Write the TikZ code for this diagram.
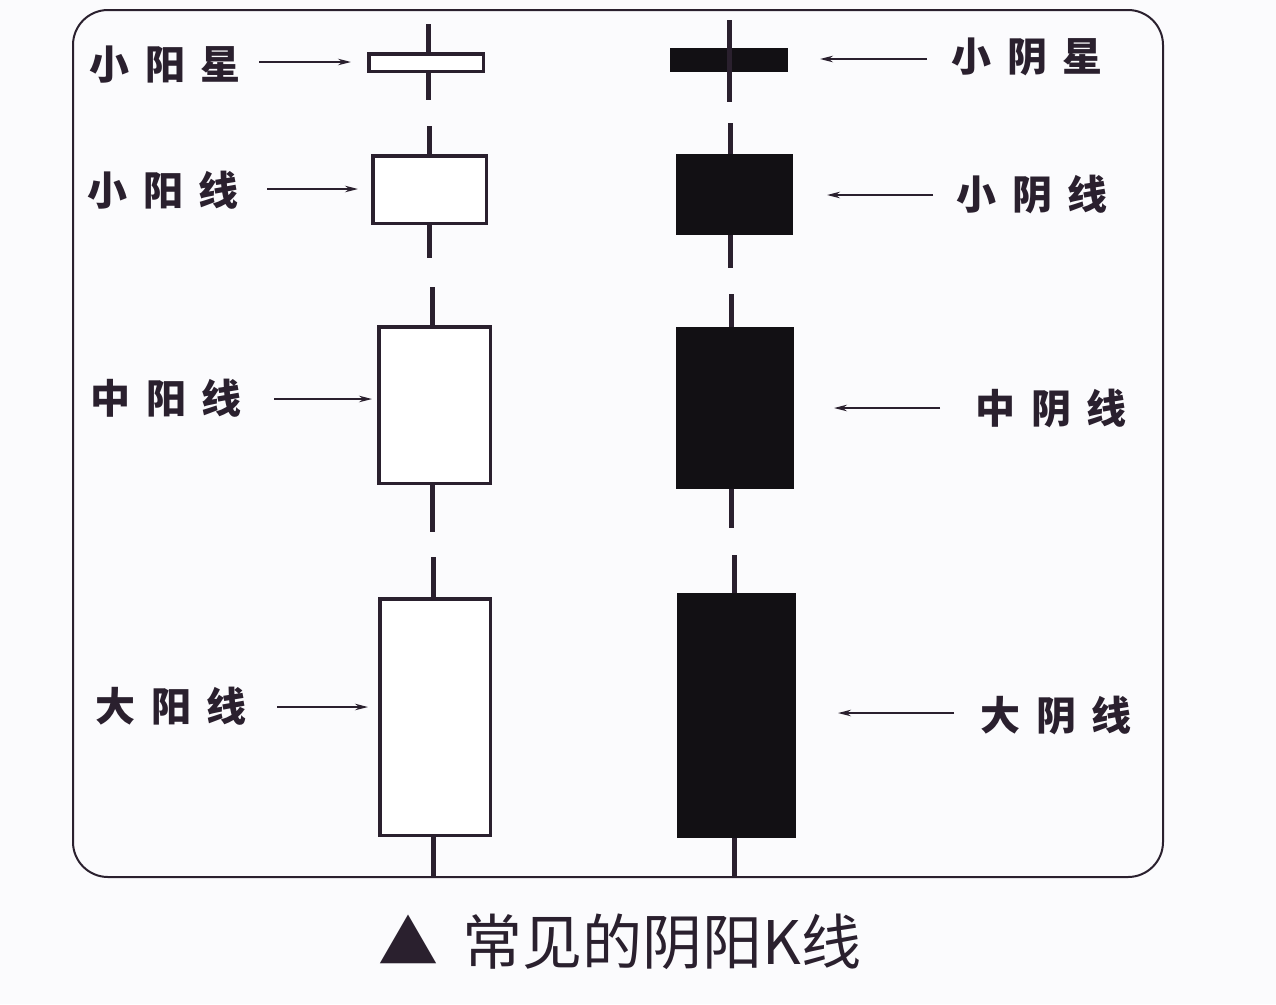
\documentclass[tikz,border=0pt]{standalone}
\usepackage{fontspec}
\newfontfamily\cjk{Noto Sans CJK SC}
\usetikzlibrary{arrows.meta}
\definecolor{ink}{RGB}{42,32,46}
\definecolor{bodyblack}{RGB}{18,16,20}
\definecolor{paper}{RGB}{251,251,253}
\newcommand{\lbl}[3]{#1\hspace{0.38em}#2\hspace{0.38em}#3}
\tikzset{
  frame/.style={draw=ink, line width=2pt, rounded corners=35pt},
  yang/.style={draw=ink, fill=white, line width=3.5pt, inner sep=0pt, rectangle},
  yin/.style={draw=bodyblack, fill=bodyblack, line width=1pt, inner sep=0pt, rectangle},
  wick/.style={draw=ink, line width=5pt},
  lab/.style={font=\cjk\bfseries\fontsize{40pt}{42pt}\selectfont, text=ink, inner sep=0pt},
  pointer/.style={draw=ink, line width=1.6pt, -{Stealth[length=13pt,width=6.5pt]}},
  caption/.style={font=\cjk\fontsize{60pt}{64pt}\selectfont, text=ink, inner sep=0pt}
}
\begin{document}
\begin{tikzpicture}[x=1pt,y=-1pt]
\fill[paper] (0,0) rectangle (1276,1004);
\useasboundingbox (0,0) rectangle (1276,1004);
\draw[frame] (73,10) rectangle (1163,877);

% ---- yang (white) candles ----
\node[yang, minimum width=114.5pt, minimum height=17.5pt] (ys) at (426,62.5) {};
\coordinate (ysT) at (428,24); \coordinate (ysB) at (428,100);
\draw[wick] (ysT) -- (ys.north -| ysT);
\draw[wick] (ys.south -| ysB) -- (ysB);

\node[yang, minimum width=113.5pt, minimum height=67.5pt] (yx) at (429.5,189.5) {};
\coordinate (yxT) at (429,126); \coordinate (yxB) at (429,258);
\draw[wick] (yxT) -- (yx.north -| yxT);
\draw[wick] (yx.south -| yxB) -- (yxB);

\node[yang, minimum width=111.5pt, minimum height=156.5pt] (ym) at (434.5,405) {};
\coordinate (ymT) at (432,287); \coordinate (ymB) at (432,532);
\draw[wick] (ymT) -- (ym.north -| ymT);
\draw[wick] (ym.south -| ymB) -- (ymB);

\node[yang, minimum width=110.5pt, minimum height=236.5pt] (yl) at (435,717) {};
\coordinate (ylT) at (433,557); \coordinate (ylB) at (433,877);
\draw[wick] (ylT) -- (yl.north -| ylT);
\draw[wick] (yl.south -| ylB) -- (ylB);

% ---- yin (black) candles ----
\node[yin, minimum width=117pt, minimum height=23pt] (ns) at (729,60) {};
\coordinate (nsT) at (729,20); \coordinate (nsB) at (729,102);
\draw[wick] (nsT) -- (nsB);

\node[yin, minimum width=116pt, minimum height=80pt] (nx) at (734.5,194.5) {};
\coordinate (nxT) at (730,123); \coordinate (nxB) at (730,268);
\draw[wick] (nxT) -- (nx.north -| nxT);
\draw[wick] (nx.south -| nxB) -- (nxB);

\node[yin, minimum width=117pt, minimum height=161pt] (nm) at (735,408) {};
\coordinate (nmT) at (731,294); \coordinate (nmB) at (731,528);
\draw[wick] (nmT) -- (nm.north -| nmT);
\draw[wick] (nm.south -| nmB) -- (nmB);

\node[yin, minimum width=118pt, minimum height=244pt] (nl) at (736.5,715.5) {};
\coordinate (nlT) at (734,555); \coordinate (nlB) at (734,877);
\draw[wick] (nlT) -- (nl.north -| nlT);
\draw[wick] (nl.south -| nlB) -- (nlB);

% ---- labels ----
\node[lab] (lys) at (165,65) {\lbl{小}{阳}{星}};
\node[lab] (lyx) at (163,190) {\lbl{小}{阳}{线}};
\node[lab] (lym) at (166,398) {\lbl{中}{阳}{线}};
\node[lab] (lyl) at (171,706) {\lbl{大}{阳}{线}};
\node[lab] (lns) at (1027,57) {\lbl{小}{阴}{星}};
\node[lab] (lnx) at (1032,194) {\lbl{小}{阴}{线}};
\node[lab] (lnm) at (1051,408) {\lbl{中}{阴}{线}};
\node[lab] (lnl) at (1056,715) {\lbl{大}{阴}{线}};

% ---- pointers ----
\coordinate (a1s) at (259,62);  \coordinate (a1e) at (351,62);
\coordinate (a2s) at (267,189); \coordinate (a2e) at (358,189);
\coordinate (a3s) at (274,399); \coordinate (a3e) at (372,399);
\coordinate (a4s) at (277,707); \coordinate (a4e) at (368,707);
\coordinate (b1s) at (927,59);  \coordinate (b1e) at (820,59);
\coordinate (b2s) at (933,195); \coordinate (b2e) at (827,195);
\coordinate (b3s) at (940,408); \coordinate (b3e) at (834,408);
\coordinate (b4s) at (954,713); \coordinate (b4e) at (838,713);
\draw[pointer] (a1s) -- (a1e);
\draw[pointer] (a2s) -- (a2e);
\draw[pointer] (a3s) -- (a3e);
\draw[pointer] (a4s) -- (a4e);
\draw[pointer] (b1s) -- (b1e);
\draw[pointer] (b2s) -- (b2e);
\draw[pointer] (b3s) -- (b3e);
\draw[pointer] (b4s) -- (b4e);

% ---- caption ----
\node[caption] (cap) at (620,942) {▲\hspace{0.4em}常见的阴阳K线};
\end{tikzpicture}
\end{document}
